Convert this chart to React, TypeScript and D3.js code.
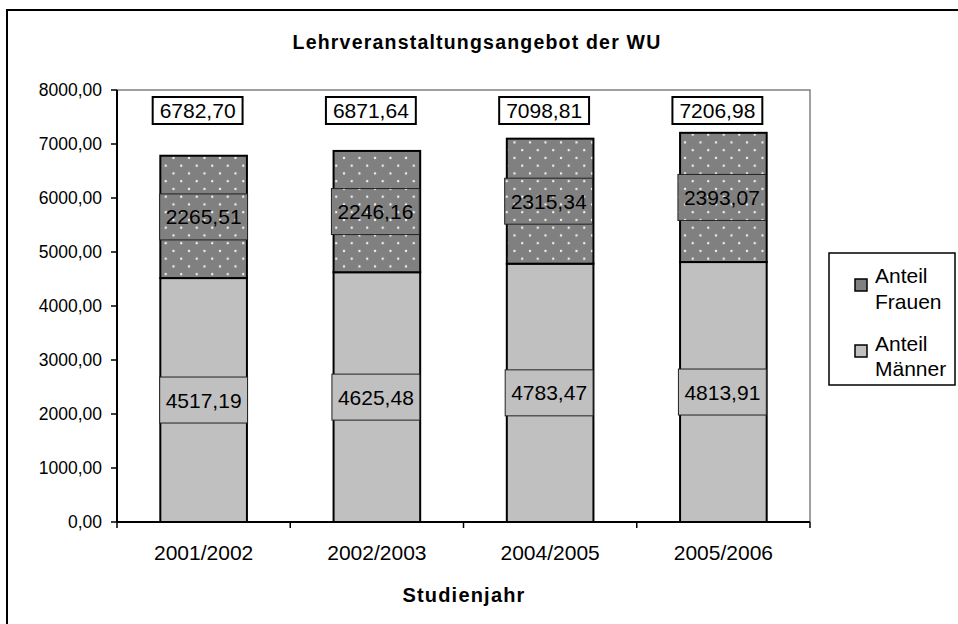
import React from 'react'
import * as d3 from 'd3'

const years = ['2001/2002', '2002/2003', '2004/2005', '2005/2006']
const maenner = [4517.19, 4625.48, 4783.47, 4813.91]
const frauen = [2265.51, 2246.16, 2315.34, 2393.07]
const totals = [6782.7, 6871.64, 7098.81, 7206.98]
const yTicks = [0, 1000, 2000, 3000, 4000, 5000, 6000, 7000, 8000]

const W = 958
const H = 624
const plot = { left: 117, right: 810, top: 90, bottom: 522 }
const font = 'Liberation Sans, Arial, Helvetica, sans-serif'

const de = d3.formatLocale({
  decimal: ',',
  thousands: '',
  grouping: [3],
  currency: ['', ''],
})
const fmt = de.format('.2f')

// rough Arial width for numbers like 6782,70
const textW = (s: string, size: number) =>
  s.split('').reduce((a, c) => a + (c === ',' ? 0.278 : 0.556), 0) * size

const App: React.FC = () => {
  const x = d3
    .scaleBand<string>()
    .domain(years)
    .range([plot.left, plot.right])
    .paddingInner(0.5)
    .paddingOuter(0.25)
  const y = d3.scaleLinear().domain([0, 8000]).range([plot.bottom, plot.top])
  const step = x.step()
  const bw = x.bandwidth()
  const labelSize = 21

  const stack = years.map((yr, i) => ({
    yr,
    m: maenner[i],
    f: frauen[i],
    t: totals[i],
  }))

  return (
    <div style={{ position: 'absolute', left: 0, top: 0 }}>
      <svg width={W} height={H} style={{ display: 'block', background: '#fff' }}>
        <defs>
          <pattern
            id="dots"
            patternUnits="userSpaceOnUse"
            width={15.5}
            height={15.5}
          >
            <rect width={15.5} height={15.5} fill="#808080" />
            <circle cx={3} cy={3} r={1.2} fill="#f4f4f4" />
            <circle cx={10.75} cy={10.75} r={1.2} fill="#f4f4f4" />
          </pattern>
        </defs>

        {/* chart border, runs off the picture on the right and bottom */}
        <rect x={7} y={10} width={970} height={630} fill="#fff" stroke="#000" strokeWidth={2} />

        <text
          x={477}
          y={49}
          textAnchor="middle"
          fontFamily={font}
          fontWeight="bold"
          fontSize={19.5}
          letterSpacing={1.2}
        >
          Lehrveranstaltungsangebot der WU
        </text>

        {/* plot area frame */}
        <rect
          x={plot.left}
          y={plot.top}
          width={plot.right - plot.left}
          height={plot.bottom - plot.top}
          fill="#fff"
          stroke="#808080"
          strokeWidth={1.5}
        />

        {/* bars */}
        {stack.map((d) => {
          const x0 = x(d.yr)!
          return (
            <g key={d.yr}>
              <rect
                x={x0}
                y={y(d.m)}
                width={bw}
                height={y(0) - y(d.m)}
                fill="#c0c0c0"
                stroke="#000"
                strokeWidth={2}
              />
              <rect
                x={x0}
                y={y(d.m + d.f)}
                width={bw}
                height={y(d.m) - y(d.m + d.f)}
                fill="url(#dots)"
                stroke="#000"
                strokeWidth={2}
              />
            </g>
          )
        })}

        {/* segment labels */}
        {stack.map((d, i) => {
          const cx = x(d.yr)! + bw / 2
          const items = [
            { v: d.f, mid: d.m + d.f / 2, fill: 'url(#dots)', dx: i === 0 ? 0 : -1.5 },
            { v: d.m, mid: d.m / 2, fill: '#c0c0c0', dx: i === 0 ? 0 : -1 },
          ]
          return (
            <g key={'lab' + d.yr}>
              {items.map((it, k) => {
                const s = fmt(it.v)
                const w = textW(s, labelSize) + 12
                const cy = y(it.mid)
                return (
                  <g key={k}>
                    <rect
                      x={cx + it.dx - w / 2}
                      y={cy - 23}
                      width={w}
                      height={46}
                      fill={it.fill}
                      stroke="#222"
                      strokeWidth={1}
                    />
                    <text
                      x={cx + it.dx}
                      y={cy + 7.5}
                      textAnchor="middle"
                      fontFamily={font}
                      fontSize={labelSize}
                      fill="#000"
                    >
                      {s}
                    </text>
                  </g>
                )
              })}
            </g>
          )
        })}

        {/* totals */}
        {stack.map((d) => {
          const s = fmt(d.t)
          const w = textW(s, labelSize) + 14
          const cx = x(d.yr)! + bw / 2 - 6
          const cy = y(8000) + 20.5
          return (
            <g key={'tot' + d.yr}>
              <rect
                x={cx - w / 2}
                y={cy - 13.5}
                width={w}
                height={27}
                fill="#fff"
                stroke="#000"
                strokeWidth={2}
              />
              <text
                x={cx}
                y={cy + 7.5}
                textAnchor="middle"
                fontFamily={font}
                fontSize={labelSize}
              >
                {s}
              </text>
            </g>
          )
        })}

        {/* y axis */}
        <line x1={plot.left} x2={plot.left} y1={plot.top} y2={plot.bottom} stroke="#000" strokeWidth={2} />
        {yTicks.map((t) => (
          <g key={'yt' + t}>
            <line x1={plot.left - 6} x2={plot.left} y1={y(t)} y2={y(t)} stroke="#000" strokeWidth={1.5} />
            <text
              x={102}
              y={y(t) + 6}
              textAnchor="end"
              fontFamily={font}
              fontSize={17.5}
            >
              {fmt(t)}
            </text>
          </g>
        ))}

        {/* x axis */}
        <line x1={plot.left} x2={plot.right} y1={plot.bottom} y2={plot.bottom} stroke="#000" strokeWidth={2} />
        {d3.range(years.length + 1).map((i) => (
          <line
            key={'xt' + i}
            x1={plot.left + i * step}
            x2={plot.left + i * step}
            y1={plot.bottom}
            y2={plot.bottom + 6}
            stroke="#000"
            strokeWidth={1.5}
          />
        ))}
        {years.map((yr) => (
          <text
            key={'xl' + yr}
            x={x(yr)! + bw / 2}
            y={560}
            textAnchor="middle"
            fontFamily={font}
            fontSize={21}
          >
            {yr}
          </text>
        ))}
        <text
          x={464}
          y={602}
          textAnchor="middle"
          fontFamily={font}
          fontWeight="bold"
          fontSize={20}
          letterSpacing={1.2}
        >
          Studienjahr
        </text>

        {/* legend */}
        <rect x={829} y={253} width={126} height={132} fill="#fff" stroke="#000" strokeWidth={1.5} />
        <rect x={855} y={279} width={12} height={12} fill="#808080" stroke="#000" strokeWidth={1.5} />
        <text fontFamily={font} fontSize={21}>
          <tspan x={875} y={283}>Anteil</tspan>
          <tspan x={875} y={309}>Frauen</tspan>
        </text>
        <rect x={855} y={345} width={12} height={12} fill="#c0c0c0" stroke="#000" strokeWidth={1.5} />
        <text fontFamily={font} fontSize={21}>
          <tspan x={875} y={351}>Anteil</tspan>
          <tspan x={875} y={376}>Männer</tspan>
        </text>
      </svg>
    </div>
  )
}

export default App
